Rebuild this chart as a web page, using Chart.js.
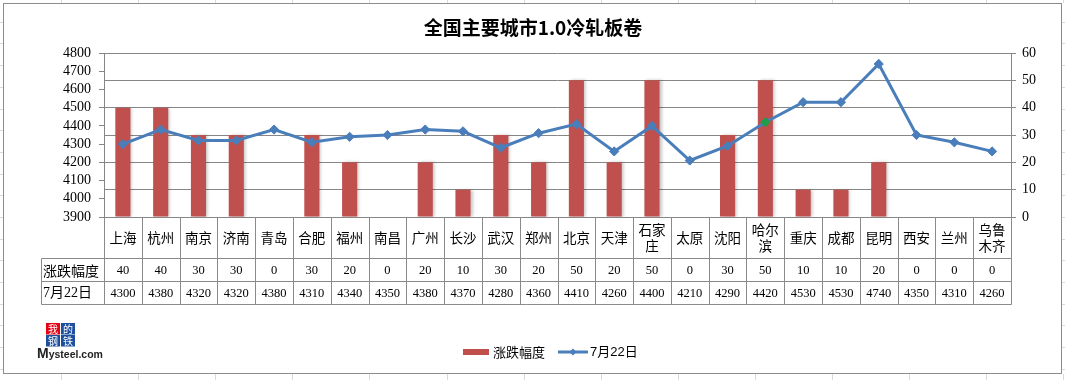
<!DOCTYPE html>
<html><head><meta charset="utf-8">
<script src="https://cdn.jsdelivr.net/npm/chart.js@4.4.1/dist/chart.umd.min.js"></script>
<style>html,body{margin:0;padding:0;background:#fff;} canvas{display:block;}</style>
</head><body>
<canvas id="c" width="1065" height="380"></canvas>
<script>
// ---- data ----
const chartTitle = '全国主要城市1.0冷轧板卷';
const cities = ['上海','杭州','南京','济南','青岛','合肥','福州','南昌','广州','长沙','武汉','郑州','北京','天津','石家庄','太原','沈阳','哈尔滨','重庆','成都','昆明','西安','兰州','乌鲁木齐'];
const cityTickLabels = ['上海','杭州','南京','济南','青岛','合肥','福州','南昌','广州','长沙','武汉','郑州','北京','天津',['石家','庄'],'太原','沈阳',['哈尔','滨'],'重庆','成都','昆明','西安','兰州',['乌鲁','木齐']];
const changeLabel = '涨跌幅度';
const changeValues = [40,40,30,30,0,30,20,0,20,10,30,20,50,20,50,0,30,50,10,10,20,0,0,0];
const priceLabel = '7月22日';
const priceValues = [4300,4380,4320,4320,4380,4310,4340,4350,4380,4370,4280,4360,4410,4260,4400,4210,4290,4420,4530,4530,4740,4350,4310,4260];
const priceAxisTicks = [3900,4000,4100,4200,4300,4400,4500,4600,4700,4800];
const changeAxisTicks = [0,10,20,30,40,50,60];
const highlightIndex = 17; // 哈尔滨 marker shown in green

// ---- styles ----
const RED = '#C0504D', BLUE = '#4A7EBB', GREEN = '#1E9E4A', GRID = '#868686', TABLE = '#8a8a8a';
const CJK = '"Noto Sans CJK SC", sans-serif';
const NUM = '"Liberation Serif", serif';
const W = 1065, H = 380, PLOT_TOP = 53, PLOT_BOTTOM = 217, PLOT_LEFT = 104, PLOT_RIGHT = 1011;
const ROW1 = 258, ROW2 = 281, ROW3 = 304, TABLE_LEFT = 41;

const pointColors = priceValues.map((v, i) => i === highlightIndex ? GREEN : BLUE);

const decor = {
  id: 'decor',
  beforeDraw(chart) {
    const ctx = chart.ctx;
    ctx.save();
    ctx.fillStyle = '#fff';
    ctx.fillRect(0, 0, W, H);
    ctx.strokeStyle = '#dadada';
    ctx.lineWidth = 1;
    ctx.beginPath();
    for (let x = 61; x < W; x += 77.1) { const px = Math.round(x) + 0.5; ctx.moveTo(px, 0); ctx.lineTo(px, 3); ctx.moveTo(px, 374); ctx.lineTo(px, H); }
    for (let y = 21.7; y < H; y += 21.7) { const py = Math.round(y) + 0.5; ctx.moveTo(0, py); ctx.lineTo(3, py); ctx.moveTo(1062, py); ctx.lineTo(W, py); }
    ctx.stroke();
    ctx.strokeStyle = '#8c8c8c';
    ctx.strokeRect(3.5, 3.5, 1058, 370);
    ctx.restore();
  },
  beforeDatasetDraw(chart, args) {
    if (chart.data.datasets[args.index].type === 'bar') {
      const ctx = chart.ctx;
      ctx.save();
      ctx.shadowColor = 'rgba(0,0,0,0.22)';
      ctx.shadowOffsetX = 2;
      ctx.shadowOffsetY = 0;
      ctx.shadowBlur = 3;
    }
  },
  afterDatasetDraw(chart, args) {
    if (chart.data.datasets[args.index].type === 'bar') chart.ctx.restore();
  },
  afterDraw(chart) {
    const ctx = chart.ctx;
    const xs = chart.scales.x;
    const n = cities.length;
    const cw = (xs.right - xs.left) / n;
    ctx.save();
    ctx.fillStyle = '#000';
    ctx.font = 'bold 19px ' + CJK;
    ctx.textAlign = 'center';
    ctx.textBaseline = 'middle';
    ctx.fillText(chartTitle, 533, 28);

    ctx.strokeStyle = TABLE;
    ctx.lineWidth = 1;
    ctx.beginPath();
    for (let i = 0; i <= n; i++) {
      const px = Math.round(xs.left + i * cw) + 0.5;
      ctx.moveTo(px, PLOT_BOTTOM); ctx.lineTo(px, ROW3 + 0.5);
    }
    [ROW1, ROW2, ROW3].forEach(y => { ctx.moveTo(TABLE_LEFT + 0.5, y + 0.5); ctx.lineTo(Math.round(xs.right) + 0.5, y + 0.5); });
    ctx.moveTo(TABLE_LEFT + 0.5, ROW1 + 0.5); ctx.lineTo(TABLE_LEFT + 0.5, ROW3 + 0.5);
    ctx.stroke();

    ctx.textAlign = 'left';
    ctx.font = '14px ' + CJK;
    ctx.fillText(changeLabel, 43, (ROW1 + ROW2) / 2 + 1);
    ctx.font = '14px ' + NUM + ', ' + CJK;
    ctx.fillText(priceLabel, 43, (ROW2 + ROW3) / 2 + 1);
    ctx.textAlign = 'center';
    ctx.font = '12.5px ' + NUM;
    for (let i = 0; i < n; i++) {
      const cx = xs.getPixelForValue(i);
      ctx.fillText(String(changeValues[i]), cx, (ROW1 + ROW2) / 2 + 1);
      ctx.fillText(String(priceValues[i]), cx, (ROW2 + ROW3) / 2 + 1);
    }

    // legend
    ctx.fillStyle = RED;
    ctx.fillRect(463, 349, 26, 6);
    ctx.fillStyle = '#000';
    ctx.textAlign = 'left';
    ctx.font = '13px ' + CJK;
    ctx.fillText(changeLabel, 493, 352);
    ctx.strokeStyle = BLUE;
    ctx.lineWidth = 3;
    ctx.beginPath(); ctx.moveTo(558, 352); ctx.lineTo(588, 352); ctx.stroke();
    ctx.fillStyle = BLUE;
    ctx.beginPath(); ctx.moveTo(573, 348.5); ctx.lineTo(576.5, 352); ctx.lineTo(573, 355.5); ctx.lineTo(569.5, 352); ctx.closePath(); ctx.fill();
    ctx.fillStyle = '#000';
    ctx.font = '13px "Liberation Sans", ' + CJK;
    ctx.fillText(priceLabel, 590, 352);

    // logo
    const sq = [[46,323,'#E60012','我'],[61,323,'#1D4F9C','的'],[46,335,'#1D4F9C','钢'],[61,335,'#1D4F9C','铁']];
    ctx.textAlign = 'center';
    ctx.font = '10px ' + CJK;
    sq.forEach(([x, y, c, t]) => {
      ctx.fillStyle = c; ctx.fillRect(x, y, 14, 11.5);
      ctx.fillStyle = '#fff'; ctx.fillText(t, x + 7, y + 6);
    });
    ctx.fillStyle = '#222';
    ctx.textAlign = 'left';
    ctx.textBaseline = 'alphabetic';
    ctx.font = 'bold 14px "Liberation Sans", sans-serif';
    ctx.fillText('M', 37, 358);
    const mw = ctx.measureText('M').width;
    ctx.font = 'bold 10.5px "Liberation Sans", sans-serif';
    ctx.fillText('ysteel.com', 37 + mw, 358);
    ctx.restore();
  }
};

new Chart(document.getElementById('c'), {
  type: 'bar',
  data: {
    labels: cityTickLabels,
    datasets: [
      {
        type: 'line', label: priceLabel, data: priceValues, yAxisID: 'y',
        borderColor: BLUE, borderWidth: 3, tension: 0,
        pointStyle: 'rectRot', pointRadius: 4.6, pointHoverRadius: 4.6,
        pointBackgroundColor: pointColors, pointBorderColor: pointColors, pointBorderWidth: 1,
        order: 0
      },
      {
        type: 'bar', label: changeLabel, data: changeValues, yAxisID: 'y1',
        backgroundColor: RED, barPercentage: 0.4, categoryPercentage: 1,
        order: 1
      }
    ]
  },
  options: {
    responsive: false, animation: false, devicePixelRatio: 1,
    layout: { padding: { top: PLOT_TOP, left: 0, right: 0, bottom: 0 } },
    plugins: { legend: { display: false }, title: { display: false }, tooltip: { enabled: false } },
    scales: {
      x: {
        offset: true,
        grid: { display: false, drawTicks: false },
        border: { display: true, color: GRID },
        ticks: { autoSkip: false, maxRotation: 0, minRotation: 0, crossAlign: 'center', padding: 13, color: '#000', font: { family: CJK, size: 13.5, lineHeight: 1.18 } },
        afterFit(s) { s.height = H - PLOT_BOTTOM; }
      },
      y: {
        position: 'left', min: priceAxisTicks[0], max: priceAxisTicks[priceAxisTicks.length - 1],
        afterBuildTicks(s) { s.ticks = priceAxisTicks.map(v => ({ value: v })); },
        grid: { drawOnChartArea: false, drawTicks: true, tickLength: 5, color: GRID },
        border: { display: true, color: GRID },
        ticks: { autoSkip: false, padding: 8, color: '#000', font: { family: NUM, size: 14 }, callback: v => String(v) },
        afterFit(s) { s.width = PLOT_LEFT; }
      },
      y1: {
        position: 'right', min: changeAxisTicks[0], max: changeAxisTicks[changeAxisTicks.length - 1],
        afterBuildTicks(s) { s.ticks = changeAxisTicks.map(v => ({ value: v })); },
        grid: { drawOnChartArea: true, drawTicks: true, tickLength: 5, color: GRID },
        border: { display: true, color: GRID },
        ticks: { autoSkip: false, padding: 6, color: '#000', font: { family: NUM, size: 14 }, callback: v => String(v) },
        afterFit(s) { s.width = W - PLOT_RIGHT; }
      }
    }
  },
  plugins: [decor]
});
</script>
</body></html>
